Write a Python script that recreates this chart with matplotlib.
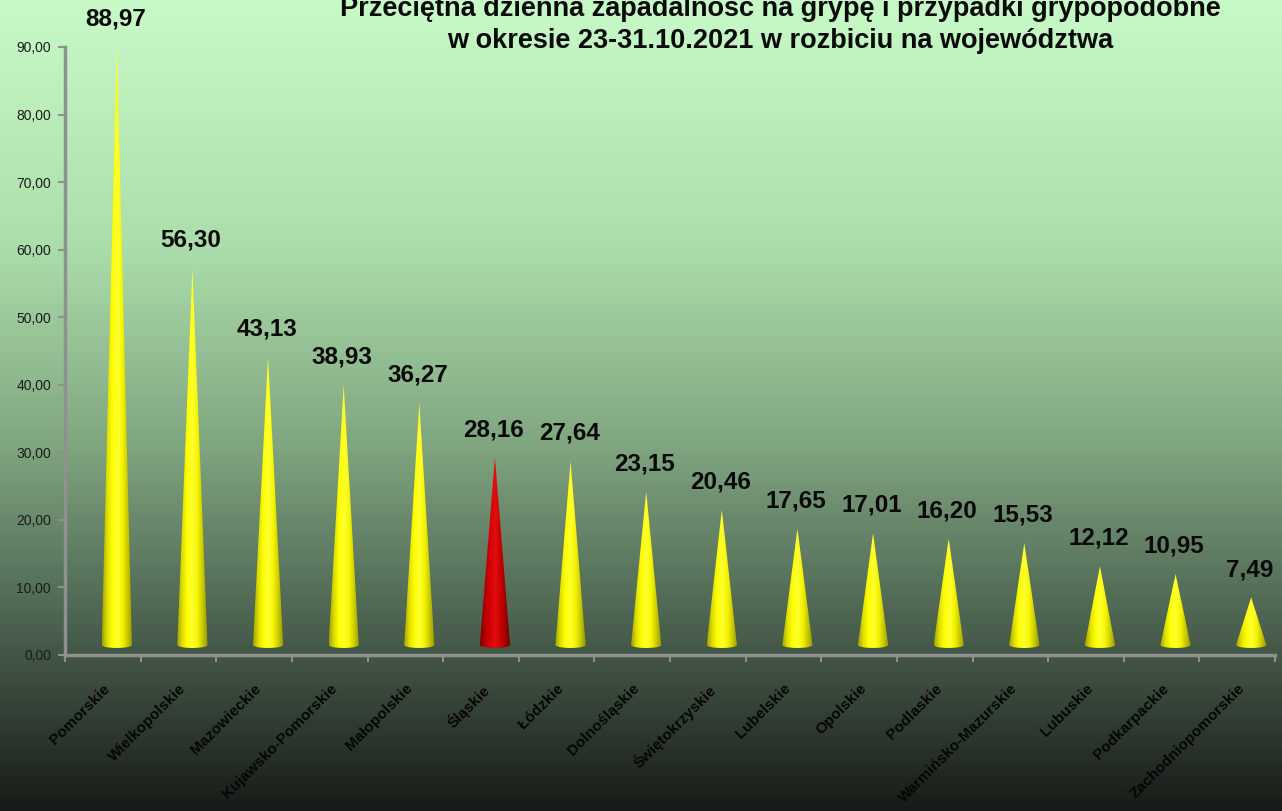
import matplotlib.pyplot as plt
import numpy as np
from matplotlib.colors import LinearSegmentedColormap
from matplotlib.patches import Polygon

plt.rcParams['font.family'] = ['Liberation Sans', 'DejaVu Sans']

regions = ['Pomorskie', 'Wielkopolskie', 'Mazowieckie', 'Kujawsko-Pomorskie',
           'Małopolskie', 'Śląskie', 'Łódzkie', 'Dolnośląskie', 'Świętokrzyskie',
           'Lubelskie', 'Opolskie', 'Podlaskie', 'Warmińsko-Mazurskie', 'Lubuskie',
           'Podkarpackie', 'Zachodniopomorskie']
incidence = [88.97, 56.30, 43.13, 38.93, 36.27, 28.16, 27.64, 23.15, 20.46,
             17.65, 17.01, 16.20, 15.53, 12.12, 10.95, 7.49]
highlight = 'Śląskie'
y_ticks = [0, 10, 20, 30, 40, 50, 60, 70, 80, 90]

title1 = 'Przeciętna dzienna zapadalność na grypę i przypadki grypopodobne'
title2 = 'w okresie 23-31.10.2021 w rozbiciu na województwa'

W, H = 1282, 811
fig = plt.figure(figsize=(W / 100, H / 100), dpi=100)

# background gradient over whole figure
bg = fig.add_axes([0, 0, 1, 1], zorder=-10)
bg_cmap = LinearSegmentedColormap.from_list('bg', [
    (0.0, (200/255, 250/255, 200/255)),
    (0.3, (172/255, 222/255, 172/255)),
    (0.55, (128/255, 165/255, 128/255)),
    (0.75, (80/255, 104/255, 84/255)),
    (1.0, (24/255, 27/255, 24/255))])
bg.imshow(np.linspace(0, 1, 256).reshape(-1, 1), aspect='auto', cmap=bg_cmap,
          extent=[0, 1, 0, 1], origin='upper')
bg.set_axis_off()

ax = fig.add_axes([65 / W, 1 - 655 / H, (1275 - 65) / W, (655 - 47) / H])
ax.patch.set_alpha(0)

yellow_cmap = LinearSegmentedColormap.from_list('yel', [
    '#a0a000', '#dede00', '#ffff00', '#ffff30', '#f4f400', '#c8c800', '#929200'])
red_cmap = LinearSegmentedColormap.from_list('red', [
    '#7a0000', '#b40000', '#d80008', '#e01010', '#c80000', '#9c0000', '#700000'])

dx, dy = 0.185, 1.04   # pseudo 3D depth offset
half_w = 0.2
grad = np.linspace(0, 1, 128).reshape(1, -1)
for i, (name, v) in enumerate(zip(regions, incidence)):
    c = i + dx
    cmap = red_cmap if name == highlight else yellow_cmap
    t = np.linspace(0, np.pi, 30)
    arc_x = c + half_w * np.cos(t)
    arc_y = dy + 0.45 - 0.45 * np.sin(t)
    pts = [(c, v + dy)] + list(zip(arc_x, arc_y))
    poly = Polygon(pts, closed=True, facecolor='none', edgecolor='none')
    ax.add_patch(poly)
    im = ax.imshow(grad, aspect='auto', cmap=cmap,
                   extent=[c - half_w, c + half_w, dy, v + dy], zorder=3)
    im.set_clip_path(poly)
    ax.annotate(f'{v:.2f}'.replace('.', ','), (c, v + dy),
                xytext=(-1, 20), textcoords='offset points',
                ha='center', va='center', fontsize=17.5, fontweight='bold',
                color='#0a0a0a')

ax.set_xlim(-0.5, len(regions) - 0.5)
ax.set_ylim(0, 90)
ax.set_yticks(y_ticks)
ax.set_yticklabels([f'{t:.2f}'.replace('.', ',') for t in y_ticks],
                   fontsize=10, color='#1a1a1a')
ax.set_xticks(np.arange(len(regions) + 1) - 0.5)
ax.set_xticklabels([])
ax.set_xticks(np.arange(len(regions)), minor=True)
ax.set_xticklabels(regions, minor=True, rotation=45, ha='right',
                   rotation_mode='anchor', fontsize=11, fontweight='bold',
                   color='#050505')
ax.tick_params(axis='x', which='minor', length=0, pad=19)
ax.tick_params(axis='x', which='major', length=5, width=1.5, color='#909090')
ax.tick_params(axis='y', length=5, width=1.5, color='#909090', pad=5)
for s in ['top', 'right']:
    ax.spines[s].set_visible(False)
for s in ['left', 'bottom']:
    ax.spines[s].set_color('#909090')
    ax.spines[s].set_linewidth(2.5)

fig.text(780 / W, 1 - 9 / H, title1, ha='center', va='center',
         fontsize=19.5, fontweight='bold', color='#0a0a0a')
fig.text(780 / W, 1 - 41 / H, title2, ha='center', va='center',
         fontsize=19.5, fontweight='bold', color='#0a0a0a')

fig.savefig('out.png', dpi=100)
